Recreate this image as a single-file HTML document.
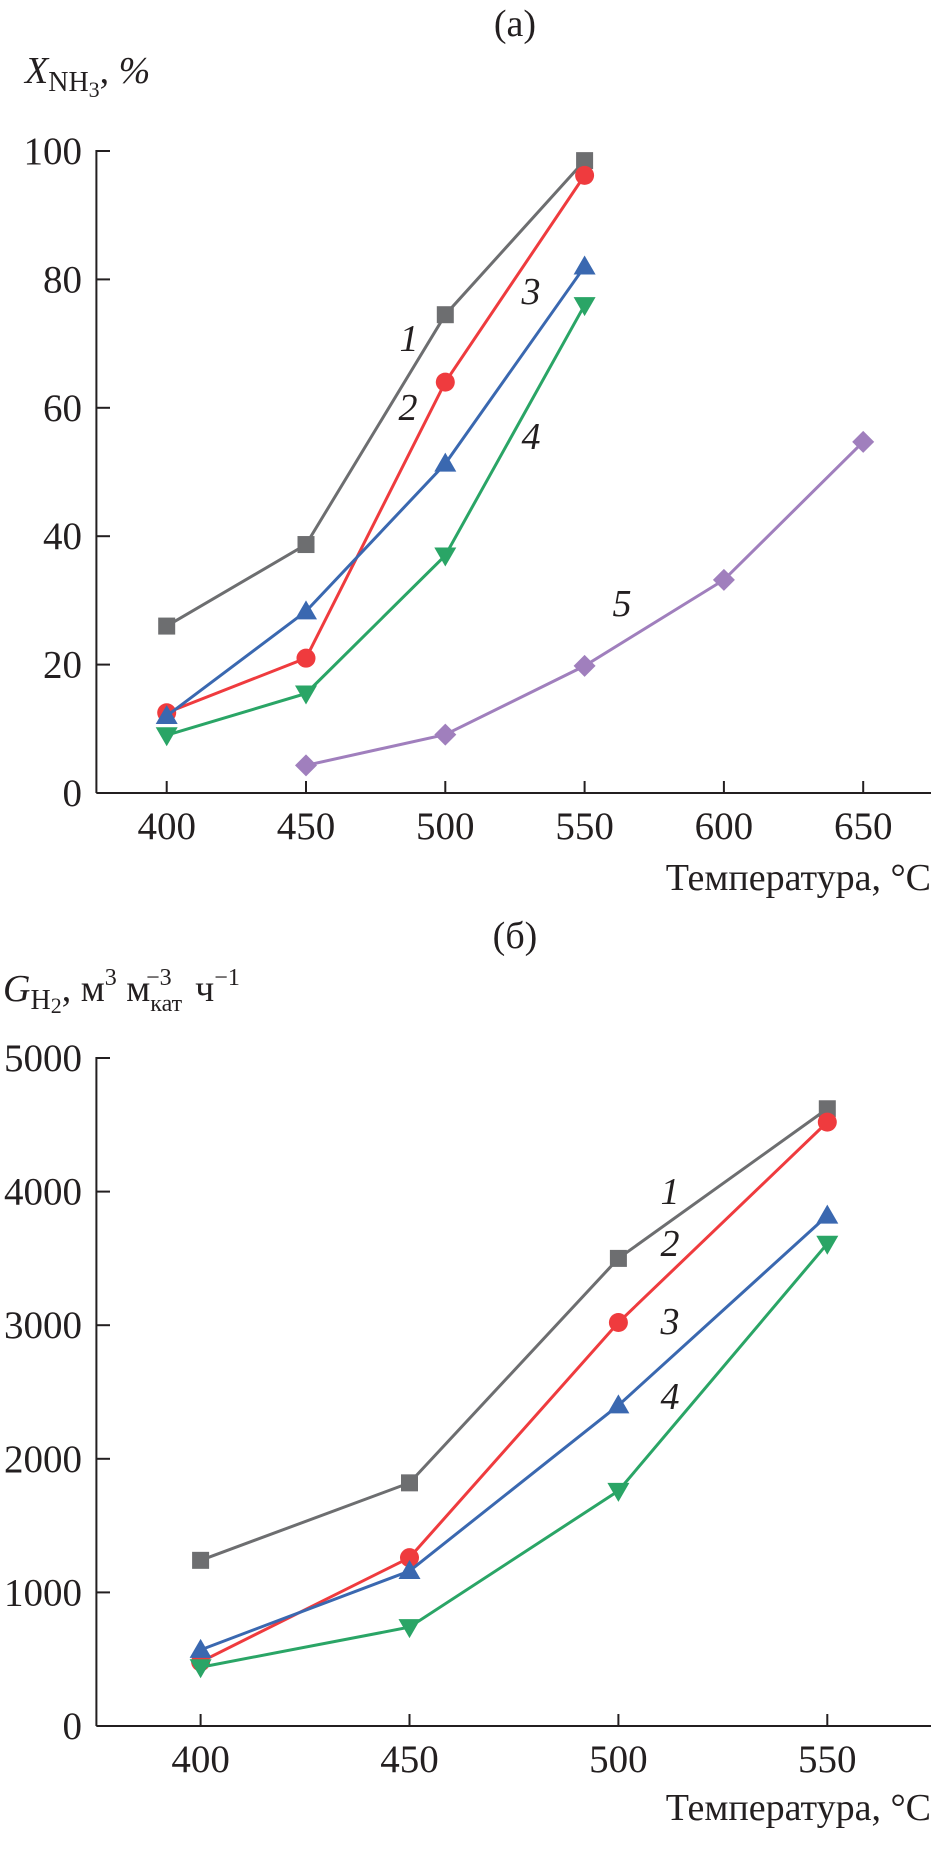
<!DOCTYPE html>
<html><head><meta charset="utf-8"><style>
body{margin:0;background:#fff}
svg{display:block;font-family:"Liberation Serif",serif;fill:#231f20}
</style></head><body>
<svg id="s" width="933" height="1852" viewBox="0 0 933 1852" xmlns="http://www.w3.org/2000/svg">
<text x="515" y="36" font-size="38" text-anchor="middle">(a)</text>
<text x="25" y="83" font-size="38"><tspan font-style="italic">X</tspan><tspan font-size="28" dy="8">NH</tspan><tspan font-size="22" dy="6">3</tspan><tspan dy="-14">, </tspan><tspan font-style="italic">%</tspan></text>
<text x="931" y="890" font-size="38" text-anchor="end">Температура, °C</text>
<text x="515" y="948" font-size="38" text-anchor="middle">(б)</text>
<text x="3" y="1001" font-size="38"><tspan font-style="italic">G</tspan><tspan font-size="28" dy="8">H</tspan><tspan font-size="22" dy="4">2</tspan><tspan dy="-12">, м</tspan><tspan font-size="24" dy="-16">3</tspan><tspan dy="16"> м</tspan><tspan font-size="24" dy="10">кат</tspan><tspan font-size="24" dx="-36" dy="-26">−3</tspan><tspan dx="14" dy="16"> ч</tspan><tspan font-size="24" dy="-16">−1</tspan></text>
<text x="931" y="1820" font-size="38" text-anchor="end">Температура, °C</text>
</svg>
<script>
const NS="http://www.w3.org/2000/svg";
const svg=document.getElementById('s');
const colors=['#6d6e70','#ef3b3e','#3a68b0','#2aa566','#a07fbd'];
const markers=['square','circle','triUp','triDown','diamond'];
// Panel a data
const aX=[400,450,500,550,600,650];
const aXTicks=[400,450,500,550,600,650];
const aYTicks=[0,20,40,60,80,100];
const a1=[26,38.7,74.5,98.5];
const a2=[12.5,21,64,96.2];
const a3=[12,28.3,51.3,82];
const a4=[9,15.5,37,76];
const a5x=[450,500,550,600,650];
const a5=[4.3,9.1,19.8,33.2,54.7];
// Panel b data
const bX=[400,450,500,550];
const bXTicks=[400,450,500,550];
const bYTicks=[0,1000,2000,3000,4000,5000];
const b1=[1240,1820,3500,4620];
const b2=[480,1260,3020,4520];
const b3=[570,1160,2400,3820];
const b4=[440,740,1760,3610];

function el(t,a){const e=document.createElementNS(NS,t);for(const k in a)e.setAttribute(k,a[k]);svg.appendChild(e);return e;}

function panel(p,xs,ys,xTicks,yTicks,yLabelX,xLabelY,series,labels){
  const ax=el('line',{x1:96.4,y1:p.y0,x2:931,y2:p.y0,stroke:'#231f20','stroke-width':2});
  
  
  const ay=el('line',{x1:96.4,y1:p.y0,x2:96.4,y2:ys(yTicks[yTicks.length-1])-1,stroke:'#231f20','stroke-width':2});
  
  
  xTicks.forEach(v=>{
    const t=el('line',{x1:xs(v),x2:xs(v),y1:p.y0,y2:p.y0-12,stroke:'#231f20','stroke-width':2});
    
    
    const l=el('text',{x:xs(v),y:xLabelY,'font-size':39,'text-anchor':'middle'});l.textContent=v;
    
    
  });
  yTicks.forEach(v=>{
    const t=el('line',{x1:96.4,x2:110,y1:ys(v),y2:ys(v),stroke:'#231f20','stroke-width':2});
    
    
    const l=el('text',{x:yLabelX,y:ys(v)+13,'font-size':39,'text-anchor':'end'});l.textContent=v;
    
    
  });
  series.forEach((s,i)=>{
    const pts=s.x.map((x,j)=>[xs(x),ys(s.y[j])]);
    const pl=el('polyline',{points:pts.map(q=>q.join(',')).join(' '),fill:'none',stroke:colors[s.c],'stroke-width':3});
    
    
    pts.forEach(([x,y])=>{
      let m;const c=colors[s.c];
      switch(markers[s.c]){
        case 'square':m=el('rect',{x:x-8.5,y:y-8.5,width:17,height:17,fill:c});break;
        case 'circle':m=el('circle',{cx:x,cy:y,r:9.5,fill:c});break;
        case 'triUp':m=el('polygon',{points:`${x},${y-11} ${x-11},${y+8} ${x+11},${y+8}`,fill:c});break;
        case 'triDown':m=el('polygon',{points:`${x},${y+11} ${x-11},${y-8} ${x+11},${y-8}`,fill:c});break;
        default:m=el('polygon',{points:`${x},${y-11} ${x+11},${y} ${x},${y+11} ${x-11},${y}`,fill:c});
      }
      
      
    });
  });
  labels.forEach(l=>{
    const t=el('text',{x:l[0],y:l[1],'font-size':38,'font-style':'italic','text-anchor':'middle'});t.textContent=l[2];
    
    
  });
}
const axs=v=>166.7+(v-400)*139.3/50, ays=v=>793-(v)*(793-151)/100;
panel({n:'panel-a',y0:793},axs,ays,aXTicks,aYTicks,82,839,
 [{x:aX.slice(0,4),y:a1,c:0},{x:aX.slice(0,4),y:a2,c:1},{x:aX.slice(0,4),y:a3,c:2},{x:aX.slice(0,4),y:a4,c:3},{x:a5x,y:a5,c:4}],
 [[409,351,'1'],[408,420,'2'],[531,304,'3'],[531,449,'4'],[622,616,'5']]);
const bxs=v=>200.6+(v-400)*208.9/50, bys=v=>1726-v*(1726-1058)/5000;
panel({n:'panel-b',y0:1726},bxs,bys,bXTicks,bYTicks,82,1772,
 [{x:bX,y:b1,c:0},{x:bX,y:b2,c:1},{x:bX,y:b3,c:2},{x:bX,y:b4,c:3}],
 [[670,1204,'1'],[670,1256,'2'],[670,1334,'3'],[670,1409,'4']]);
</script>
</body></html>
